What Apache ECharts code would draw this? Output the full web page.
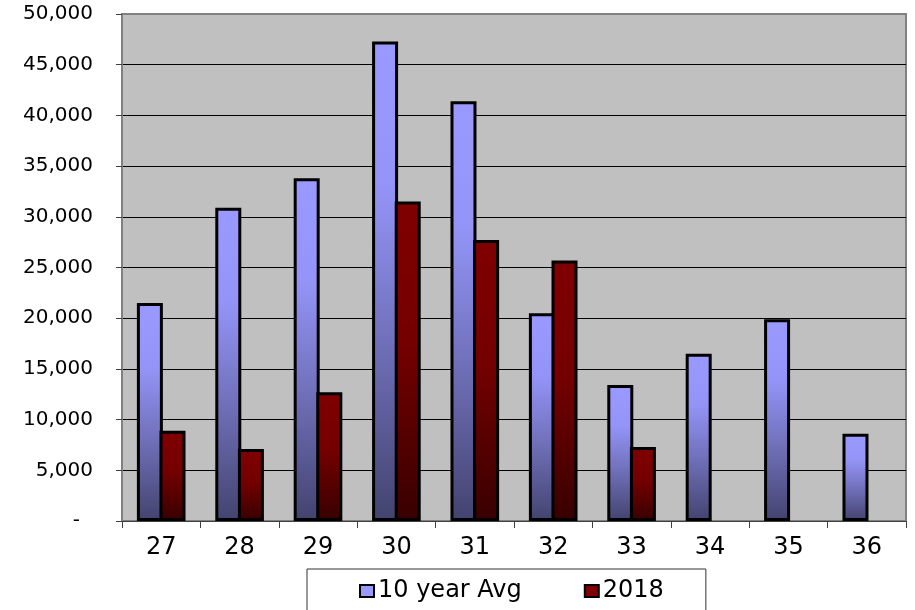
<!DOCTYPE html>
<html>
<head>
<meta charset="utf-8">
<script src="https://cdn.jsdelivr.net/npm/echarts@6/dist/echarts.min.js"></script>
<style>
html,body{margin:0;padding:0;background:#fff;}
#chart{width:915px;height:610px;}
</style>
</head>
<body>
<div id="chart"></div>
<script>
var categories = ['27','28','29','30','31','32','33','34','35','36'];
var avg10 = [21500, 30900, 33800, 47300, 41400, 20500, 13400, 16500, 19900, 8600];
var y2018 = [8900, 7100, 12700, 31500, 27700, 25700, 7300, null, null, null];
var seriesNames = ['10 year Avg', '2018'];

var avgGrad = new echarts.graphic.LinearGradient(0, 0, 0, 1, [
  {offset: 0, color: '#9999ff'},
  {offset: 0.3, color: '#9494f8'},
  {offset: 0.6, color: '#7373bf'},
  {offset: 1, color: '#43436f'}
]);
var redGrad = new echarts.graphic.LinearGradient(0, 0, 0, 1, [
  {offset: 0, color: '#800000'},
  {offset: 0.45, color: '#740000'},
  {offset: 1, color: '#380000'}
]);

var chart = echarts.init(document.getElementById('chart'), null, {renderer: 'canvas'});
chart.setOption({
  animation: false,
  backgroundColor: '#ffffff',
  textStyle: {fontFamily: 'DejaVu Sans'},
  grid: {
    left: 122, right: 9, top: 14, bottom: 89,
    show: true, backgroundColor: '#c0c0c0', borderColor: '#808080', borderWidth: 2
  },
  legend: {
    data: [
      {name: seriesNames[0], itemStyle: {color: '#9999ff', borderColor: '#000', borderWidth: 2}},
      {name: seriesNames[1], itemStyle: {color: '#800000', borderColor: '#000', borderWidth: 2}}
    ],
    left: 307, top: 569,
    padding: [10, 42, 20, 52],
    itemGap: 62, itemWidth: 14, itemHeight: 12,
    backgroundColor: '#ffffff', borderColor: '#333333', borderWidth: 1, borderRadius: 0,
    icon: 'rect',
    textStyle: {fontFamily: 'DejaVu Sans', fontSize: 24, color: '#000', padding: [0, 0, 0, -1]}
  },
  xAxis: {
    type: 'category',
    data: categories,
    boundaryGap: true,
    axisLine: {show: true, lineStyle: {color: '#404040', width: 1}},
    axisTick: {show: true, alignWithLabel: false, length: 7, lineStyle: {color: '#404040', width: 1}},
    axisLabel: {color: '#000', fontSize: 24, fontFamily: 'DejaVu Sans', margin: 15},
    splitLine: {show: false}
  },
  yAxis: {
    type: 'value',
    min: 0, max: 50000, interval: 5000,
    axisLine: {show: true, lineStyle: {color: '#808080', width: 2}},
    axisTick: {show: true, length: 6, lineStyle: {color: '#404040', width: 1}},
    axisLabel: {
      color: '#000', fontSize: 20, fontFamily: 'DejaVu Sans', margin: 29,
      formatter: function (v) {
        if (v === 0) return '{d|-}';
        return v.toString().replace(/\B(?=(\d{3})+(?!\d))/g, ',');
      },
      rich: {d: {fontSize: 20, fontFamily: 'DejaVu Sans', color: '#000', padding: [0, 13, 0, 0]}}
    },
    splitLine: {show: true, showMaxLine: false, lineStyle: {color: '#000', width: 1}}
  },
  series: [
    {
      name: seriesNames[0], type: 'bar', data: avg10,
      barWidth: 26, barGap: '-13%',
      itemStyle: {color: avgGrad, borderColor: '#000', borderWidth: 3}
    },
    {
      name: seriesNames[1], type: 'bar', data: y2018,
      barWidth: 26, barGap: '-13%',
      itemStyle: {color: redGrad, borderColor: '#000', borderWidth: 3}
    }
  ]
});
</script>
</body>
</html>
